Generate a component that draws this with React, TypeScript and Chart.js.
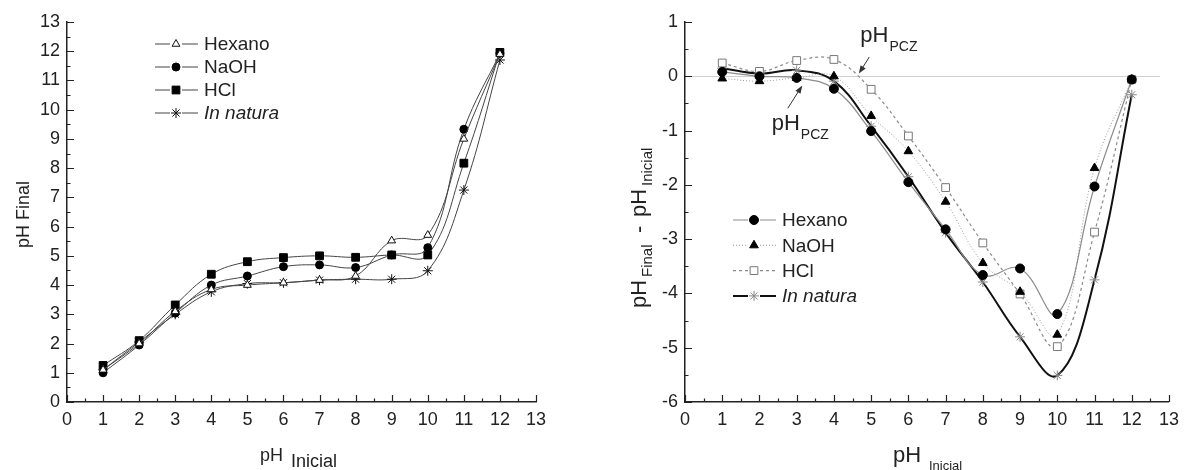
import React, { useEffect, useRef } from "react";
import { Chart, registerables } from "chart.js";
import { drawPoint } from "chart.js/helpers";

Chart.register(...registerables);

const FONT = "'Liberation Sans', Arial, Helvetica, sans-serif";

// ---------- data ----------
const phInicial = [1, 2, 3, 4, 5, 6, 7, 8, 9, 10, 11, 12];
const seriesNames = ["Hexano", "NaOH", "HCl", "In natura"];

// Left panel: pH final
const hexanoFinal = [1.1, 2.0, 3.1, 3.85, 4.0, 4.08, 4.17, 4.31, 5.52, 5.71, 9.0, 11.9];
const naohFinal = [1.0, 1.95, 3.04, 4.0, 4.31, 4.63, 4.69, 4.6, 5.03, 5.28, 9.33, 11.93];
const hclFinal = [1.25, 2.1, 3.32, 4.37, 4.8, 4.94, 5.0, 4.95, 5.03, 5.03, 8.17, 11.96];
const naturaFinal = [1.1, 2.05, 3.0, 3.77, 4.05, 4.08, 4.17, 4.2, 4.2, 4.49, 7.25, 11.7];

// Right panel: pH final - pH inicial
const hexanoDelta = [0.08, 0.0, -0.03, -0.23, -1.01, -1.95, -2.82, -3.66, -3.54, -4.38, -2.03, -0.06];
const naohDelta = [-0.04, -0.09, -0.03, 0.0, -0.73, -1.38, -2.31, -3.44, -3.97, -4.76, -1.69, -0.06];
const hclDelta = [0.245, 0.09, 0.29, 0.31, -0.24, -1.1, -2.05, -3.07, -4.01, -4.98, -2.87, -0.06];
const naturaDelta = [0.15, 0.05, 0.11, -0.09, -0.92, -1.85, -2.88, -3.79, -4.8, -5.51, -3.75, -0.34];

// Axis ranges
const xRange = [0, 13];
const leftYRange = [0, 13];
const rightYRange = [-6, 1];

// pH_PCZ annotations (data coordinates)
const pczNotes = [
  { tx: 4.71, ty: 0.63, fromX: 4.95, fromY: 0.355, toX: 4.67, toY: 0.05 },
  { tx: 2.33, ty: -0.99, fromX: 2.76, fromY: -0.59, toX: 3.15, toY: -0.17 },
];

const toXY = (ys: number[]) => ys.map((y, i) => ({ x: phInicial[i], y }));

// ---------- plugins ----------
const inwardTicks = {
  id: "inwardTicks",
  afterDraw(chart: any) {
    const { ctx, chartArea: a, scales } = chart;
    const x = scales.x;
    const y = scales.y;
    ctx.save();
    ctx.strokeStyle = "#222";
    ctx.lineWidth = 1.2;
    ctx.setLineDash([]);
    ctx.beginPath();
    for (let k = x.min * 2; k <= x.max * 2; k++) {
      const px = Math.round(x.getPixelForValue(k / 2)) + 0.5;
      const len = Math.abs(k) % 2 === 0 ? 7 : 3.5;
      ctx.moveTo(px, a.bottom);
      ctx.lineTo(px, a.bottom - len);
    }
    for (let k = y.min * 2; k <= y.max * 2; k++) {
      const py = Math.round(y.getPixelForValue(k / 2)) + 0.5;
      const len = Math.abs(k) % 2 === 0 ? 7 : 3.5;
      ctx.moveTo(a.left, py);
      ctx.lineTo(a.left + len, py);
    }
    ctx.stroke();
    ctx.restore();
  },
};

function makeLegend(id: string, x0: number, y0: number, dy: number, fontSize: number) {
  return {
    id,
    afterDraw(chart: any) {
      const { ctx } = chart;
      ctx.save();
      chart.data.datasets.forEach((ds: any, i: number) => {
        const yy = y0 + i * dy;
        const mx = x0 + 21;
        ctx.strokeStyle = ds.borderColor;
        ctx.lineWidth = ds.borderWidth;
        ctx.setLineDash(ds.borderDash || []);
        ctx.beginPath();
        ctx.moveTo(x0, yy);
        ctx.lineTo(mx - 6, yy);
        ctx.moveTo(mx + 6, yy);
        ctx.lineTo(x0 + 43, yy);
        ctx.stroke();
        ctx.setLineDash([]);
        ctx.fillStyle = ds.pointBackgroundColor;
        ctx.strokeStyle = ds.pointBorderColor;
        ctx.lineWidth = ds.pointBorderWidth;
        drawPoint(ctx, { pointStyle: ds.pointStyle, radius: ds.pointRadius, borderWidth: ds.pointBorderWidth, rotation: 0 }, mx, yy);
        ctx.fillStyle = "#222";
        ctx.textBaseline = "middle";
        ctx.textAlign = "left";
        ctx.font = (ds.label === "In natura" ? "italic " : "") + `${fontSize}px ${FONT}`;
        ctx.fillText(ds.label, x0 + 49, yy + 1);
      });
      ctx.restore();
    },
  };
}

const leftTitles = {
  id: "leftTitles",
  afterDraw(chart: any) {
    const { ctx } = chart;
    ctx.save();
    ctx.fillStyle = "#222";
    ctx.textBaseline = "alphabetic";
    ctx.textAlign = "left";
    ctx.font = `18px ${FONT}`;
    ctx.fillText("pH", 260, 461);
    ctx.fillText("Inicial", 291, 467);
    ctx.translate(29, 248);
    ctx.rotate(-Math.PI / 2);
    ctx.font = `18px ${FONT}`;
    ctx.fillText("pH Final", 0, 0);
    ctx.restore();
  },
};

const rightTitles = {
  id: "rightTitles",
  afterDraw(chart: any) {
    const { ctx } = chart;
    ctx.save();
    ctx.fillStyle = "#222";
    ctx.textBaseline = "alphabetic";
    ctx.textAlign = "left";
    ctx.font = `22px ${FONT}`;
    ctx.fillText("pH", 293, 462);
    ctx.font = `13px ${FONT}`;
    ctx.fillText("Inicial", 329, 470);
    ctx.translate(46, 308);
    ctx.rotate(-Math.PI / 2);
    ctx.font = `22px ${FONT}`;
    ctx.fillText("pH", 0, 0);
    ctx.font = `15px ${FONT}`;
    ctx.fillText("Final", 31, 6);
    ctx.font = `22px ${FONT}`;
    ctx.fillText("-", 75, 0);
    ctx.fillText("pH", 91, 0);
    ctx.font = `15px ${FONT}`;
    ctx.fillText("Inicial", 122, 6);
    ctx.restore();
  },
};

const zeroLine = {
  id: "zeroLine",
  beforeDatasetsDraw(chart: any) {
    const { ctx, chartArea: a, scales } = chart;
    const py = Math.round(scales.y.getPixelForValue(0)) + 0.5;
    ctx.save();
    ctx.strokeStyle = "#d0d0d0";
    ctx.lineWidth = 1;
    ctx.beginPath();
    ctx.moveTo(a.left, py);
    ctx.lineTo(scales.x.getPixelForValue(12.76), py);
    ctx.stroke();
    ctx.restore();
  },
};

const pczPlugin = {
  id: "pcz",
  afterDraw(chart: any) {
    const { ctx, scales } = chart;
    const X = (v: number) => scales.x.getPixelForValue(v);
    const Y = (v: number) => scales.y.getPixelForValue(v);
    ctx.save();
    pczNotes.forEach((n) => {
      ctx.fillStyle = "#222";
      ctx.textBaseline = "alphabetic";
      ctx.textAlign = "left";
      ctx.font = `22px ${FONT}`;
      const tx = X(n.tx);
      const ty = Y(n.ty);
      ctx.fillText("pH", tx, ty);
      const w = ctx.measureText("pH").width;
      ctx.font = `14px ${FONT}`;
      ctx.fillText("PCZ", tx + w + 1, ty + 9);
      const x1 = X(n.fromX), y1 = Y(n.fromY), x2 = X(n.toX), y2 = Y(n.toY);
      const ang = Math.atan2(y2 - y1, x2 - x1);
      ctx.strokeStyle = "#333";
      ctx.lineWidth = 1;
      ctx.beginPath();
      ctx.moveTo(x1, y1);
      ctx.lineTo(x2 - Math.cos(ang) * 5, y2 - Math.sin(ang) * 5);
      ctx.stroke();
      ctx.fillStyle = "#333";
      ctx.beginPath();
      ctx.moveTo(x2, y2);
      ctx.lineTo(x2 - Math.cos(ang) * 8 + Math.sin(ang) * 3, y2 - Math.sin(ang) * 8 - Math.cos(ang) * 3);
      ctx.lineTo(x2 - Math.cos(ang) * 8 - Math.sin(ang) * 3, y2 - Math.sin(ang) * 8 + Math.cos(ang) * 3);
      ctx.closePath();
      ctx.fill();
    });
    ctx.restore();
  },
};

// ---------- helpers ----------
function ds(label: string, ys: number[], o: any) {
  return {
    label,
    data: toXY(ys),
    showLine: true,
    fill: false,
    tension: 0.4,
    borderColor: o.line,
    borderWidth: o.lw,
    borderDash: o.dash || [],
    pointStyle: o.ps,
    pointRadius: o.r,
    pointHoverRadius: o.r,
    pointBackgroundColor: o.fill,
    pointBorderColor: o.stroke,
    pointBorderWidth: o.bw,
  };
}

function baseOptions(yr: number[], yWidth: number, rightPad: number) {
  return {
    responsive: false,
    animation: false,
    devicePixelRatio: 1,
    layout: { padding: { top: 22, right: rightPad, left: 0, bottom: 0 } },
    plugins: { legend: { display: false }, tooltip: { enabled: false } },
    scales: {
      x: {
        type: "linear",
        min: xRange[0],
        max: xRange[1],
        ticks: { stepSize: 1, color: "#222", font: { size: 18, family: FONT }, padding: 7, maxRotation: 0, autoSkip: false },
        grid: { display: false, drawTicks: false },
        border: { display: true, color: "#222", width: 1.5 },
        afterFit: (s: any) => { s.height = 68; },
      },
      y: {
        type: "linear",
        min: yr[0],
        max: yr[1],
        ticks: { stepSize: 1, color: "#222", font: { size: 18, family: FONT }, padding: 7, autoSkip: false },
        grid: { display: false, drawTicks: false },
        border: { display: true, color: "#222", width: 1.5 },
        afterFit: (s: any) => { s.width = yWidth; },
      },
    },
  };
}

export default function App() {
  const leftRef = useRef<HTMLCanvasElement>(null);
  const rightRef = useRef<HTMLCanvasElement>(null);

  useEffect(() => {
    Chart.defaults.font.family = FONT;
    Chart.defaults.color = "#222";
    const left = new Chart(leftRef.current as HTMLCanvasElement, {
      type: "line",
      data: {
        datasets: [
          ds(seriesNames[0], hexanoFinal, { line: "#444", lw: 1, ps: "triangle", r: 4.5, fill: "#fff", stroke: "#111", bw: 1 }),
          ds(seriesNames[1], naohFinal, { line: "#444", lw: 1, ps: "circle", r: 4, fill: "#000", stroke: "#000", bw: 1 }),
          ds(seriesNames[2], hclFinal, { line: "#444", lw: 1, ps: "rect", r: 5.5, fill: "#000", stroke: "#000", bw: 1 }),
          ds(seriesNames[3], naturaFinal, { line: "#444", lw: 1, ps: "star", r: 5, fill: "#000", stroke: "#111", bw: 1 }),
        ],
      },
      options: baseOptions(leftYRange, 67, 64) as any,
      plugins: [inwardTicks, makeLegend("legL", 155, 44, 23, 19), leftTitles],
    });
    const right = new Chart(rightRef.current as HTMLCanvasElement, {
      type: "line",
      data: {
        datasets: [
          ds(seriesNames[0], hexanoDelta, { line: "#8c8c8c", lw: 1.2, ps: "circle", r: 4.5, fill: "#000", stroke: "#000", bw: 1 }),
          ds(seriesNames[1], naohDelta, { line: "#9a9a9a", lw: 1, dash: [1, 2], ps: "triangle", r: 5, fill: "#000", stroke: "#000", bw: 1 }),
          ds(seriesNames[2], hclDelta, { line: "#8a8a8a", lw: 1.2, dash: [3, 3], ps: "rect", r: 5.5, fill: "#fff", stroke: "#777", bw: 1 }),
          ds(seriesNames[3], naturaDelta, { line: "#111", lw: 2, ps: "star", r: 5, fill: "#888", stroke: "#888", bw: 1 }),
        ],
      },
      options: baseOptions(rightYRange, 85, 12) as any,
      plugins: [zeroLine, inwardTicks, makeLegend("legR", 133, 220, 25.3, 19), rightTitles, pczPlugin],
    });
    return () => {
      left.destroy();
      right.destroy();
    };
  }, []);

  return (
    <div style={{ position: "absolute", left: 0, top: 0, width: 1186, height: 470, background: "#fff" }}>
      <canvas ref={leftRef} width={600} height={470} style={{ position: "absolute", left: 0, top: 0 }} />
      <canvas ref={rightRef} width={586} height={470} style={{ position: "absolute", left: 600, top: 0 }} />
    </div>
  );
}
